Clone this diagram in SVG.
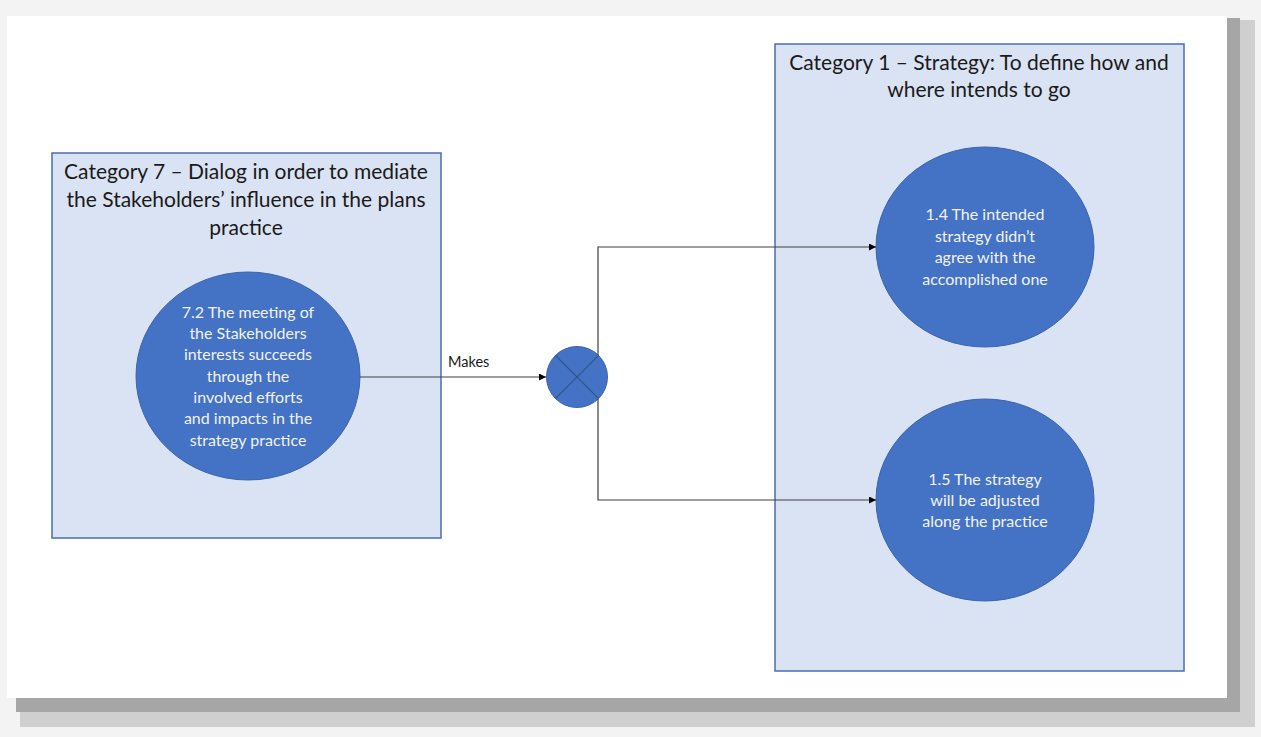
<svg xmlns="http://www.w3.org/2000/svg" width="1261" height="737" viewBox="0 0 1261 737">
<defs>
<style>
.cat{fill:#dae3f3;stroke:#4a6fb0;stroke-width:1.5}
.node{fill:#4472c4;stroke:#3a63ad;stroke-width:1}
.title{font-family:Lato,"Open Sans",sans-serif;font-size:21px;fill:#1a1a1a;text-anchor:middle}
.ntext{font-family:Lato,"Open Sans",sans-serif;font-size:16px;fill:#f2f2f2;text-anchor:middle}
.lbl{font-family:Lato,"Open Sans",sans-serif;font-size:14.5px;fill:#1a1a1a}
.conn{fill:none;stroke:#404040;stroke-width:1.2}
</style>
<marker id="arr" viewBox="0 0 10 10" refX="10" refY="5" markerWidth="7" markerHeight="7" orient="auto" markerUnits="userSpaceOnUse">
<path d="M0,0 L10,5 L0,10 z" fill="#000"/>
</marker>
</defs>
<rect x="0" y="0" width="1261" height="737" fill="#f3f3f3"/>
<rect x="20" y="20" width="1235" height="707" fill="#cfcfcf"/>
<rect x="16" y="18" width="1224" height="694" fill="#a6a6a6"/>
<rect x="7" y="16" width="1220" height="682" fill="#ffffff"/>
<g id="cat7">
<rect class="cat" x="52" y="153" width="389" height="385"/>
<text class="title" x="246" y="179">Category 7 – Dialog in order to mediate</text>
<text class="title" x="246" y="207">the Stakeholders’ influence in the plans</text>
<text class="title" x="246" y="235">practice</text>
</g>
<g id="cat1">
<rect class="cat" x="775" y="44" width="409" height="627"/>
<text class="title" x="979" y="70">Category 1 – Strategy: To define how and</text>
<text class="title" x="979" y="97">where intends to go</text>
</g>
<g id="n72">
<ellipse class="node" cx="248" cy="376" rx="112" ry="104"/>
<text class="ntext" x="248" y="318">7.2 The meeting of</text>
<text class="ntext" x="248" y="339">the Stakeholders</text>
<text class="ntext" x="248" y="360">interests succeeds</text>
<text class="ntext" x="248" y="382">through the</text>
<text class="ntext" x="248" y="403">involved efforts</text>
<text class="ntext" x="248" y="424">and impacts in the</text>
<text class="ntext" x="248" y="446">strategy practice</text>
</g>
<g id="n14">
<ellipse class="node" cx="985" cy="247" rx="109" ry="100"/>
<text class="ntext" x="985" y="220">1.4 The intended</text>
<text class="ntext" x="985" y="242">strategy didn’t</text>
<text class="ntext" x="985" y="263">agree with the</text>
<text class="ntext" x="985" y="285">accomplished one</text>
</g>
<g id="n15">
<ellipse class="node" cx="985" cy="500" rx="109" ry="101"/>
<text class="ntext" x="985" y="485">1.5 The strategy</text>
<text class="ntext" x="985" y="506">will be adjusted</text>
<text class="ntext" x="985" y="527">along the practice</text>
</g>
<g id="junction">
<circle class="node" cx="577" cy="377" r="30.5"/>
<path d="M555.4,355.4 L598.6,398.6 M598.6,355.4 L555.4,398.6" stroke="#2f528f" stroke-width="1.2" fill="none"/>
</g>
<g id="connectors">
<path class="conn" d="M360,377 L546,377" marker-end="url(#arr)"/>
<text class="lbl" x="448" y="367">Makes</text>
<path class="conn" d="M598,355 L598,247 L876,247" marker-end="url(#arr)"/>
<path class="conn" d="M598,399 L598,500 L876,500" marker-end="url(#arr)"/>
</g>
</svg>
